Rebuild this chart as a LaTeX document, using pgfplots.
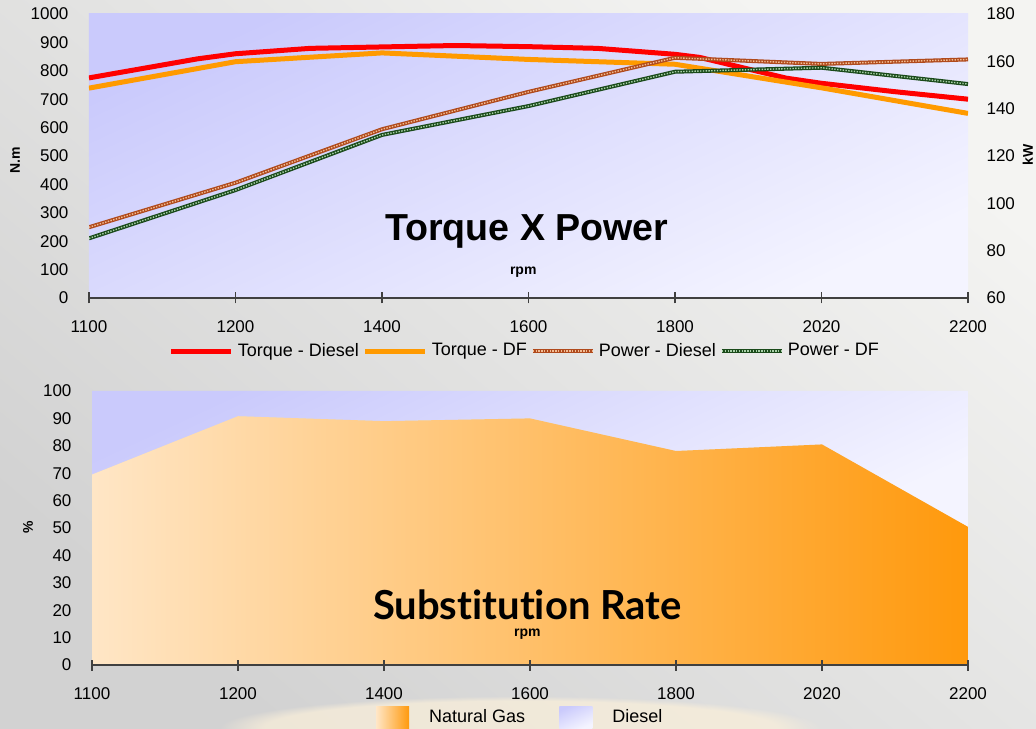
\documentclass[border=0pt]{standalone}
\usepackage{pgfplots}
\pgfplotsset{compat=1.18}
\usepackage{fontspec}
\setmainfont{Liberation Sans}
\newfontfamily\latofont[Ligatures=NoCommon]{Lato}
\usetikzlibrary{fadings}

\definecolor{lavA}{HTML}{CACAFC}
\definecolor{lavB}{HTML}{F4F4FF}
\definecolor{ngA}{HTML}{FFE6C6}
\definecolor{ngM}{HTML}{FFC88E}
\definecolor{ngB}{HTML}{FF990C}
\definecolor{tred}{HTML}{FF0000}
\definecolor{torange}{HTML}{FF9A00}
\definecolor{pbrown}{HTML}{B04A1C}
\definecolor{pbrownL}{HTML}{F2BC94}
\definecolor{pgreen}{HTML}{1A4A1A}
\definecolor{pgreenL}{HTML}{A8D0A8}
\definecolor{axgray}{HTML}{404040}
\definecolor{bgA}{HTML}{F4F4F2}
\definecolor{bgB}{HTML}{D2D2D2}
\definecolor{glow}{HTML}{FBF0DA}

\tikzset{
  tdiesel/.style={tred, line width=2.5pt, line join=round},
  tdf/.style={torange, line width=2.5pt, line join=round},
  pdiesel/.style={pbrown, line width=2pt, line join=round,
     postaction={draw=pbrownL, line width=0.7pt, dash pattern=on 0.7pt off 0.7pt}},
  pdf/.style={pgreen, line width=2pt, line join=round,
     postaction={draw=pgreenL, line width=0.7pt, dash pattern=on 0.7pt off 0.7pt}},
}

\pgfplotsset{
  common/.style={
    scale only axis, anchor=south west,
    xmin=0, xmax=6,
    xtick={0,1,2,3,4,5,6},
    xticklabels={1100,1200,1400,1600,1800,2020,2200},
    tick label style={font=\fontsize{8.5}{10}\selectfont},
    /pgf/number format/assume math mode=true,
    /pgf/number format/1000 sep={},
    tick align=center, major tick length=5.5pt,
    xticklabel style={yshift=-5pt},
  }
}

\begin{document}
\begin{tikzpicture}
\useasboundingbox (0,0) rectangle (518pt,364pt);
\clip (0,0) rectangle (518pt,364pt);
\shade[top color=bgA, bottom color=bgB, shading angle=-40] (0,0) rectangle (518pt,364pt);
\fill[glow, opacity=0.7, path fading=circle with fuzzy edge 15 percent] (260pt,0pt) ellipse (150pt and 16pt);

% ---------------- top chart: torque ----------------
\begin{axis}[common,
  at={(44.5pt,215pt)}, width=439.5pt, height=142pt,
  ymin=0, ymax=1000, ytick={0,100,...,1000},
  axis x line*=bottom, axis y line*=left,
  y axis line style={draw=none}, ytick style={draw=none},
  x axis line style={axgray, line width=0.6pt},
  xtick style={axgray, line width=0.6pt},
  yticklabel style={xshift=-4pt},
  axis background/.style={top color=lavA, bottom color=lavB, shading angle=25},
  ylabel={N.m},
  ylabel style={font=\fontsize{7}{8}\selectfont\bfseries, at={(axis description cs:-0.084,0.486)}, anchor=center},
  xlabel={rpm},
  xlabel style={font=\fontsize{7}{8}\selectfont\bfseries, at={(axis description cs:0.494,0.0915)}, anchor=center},
]
\addplot[tdiesel] coordinates {
 (0,775) (0.74,842) (1,860) (1.51,879) (2,884) (2.5,889) (3,885) (3.47,879)
 (3.85,864) (4,858) (4.17,847) (4.76,774) (5,756) (5.49,727) (6,700)};
\addplot[tdf] coordinates {
 (0,739) (1,832) (2,863) (3,840) (4,823) (5,740) (6,650)};
\node[font=\fontsize{18.8}{20}\selectfont\bfseries] at (rel axis cs:0.498,0.236) {Torque X Power};
\end{axis}

% ---------------- top chart: power ----------------
\begin{axis}[common,
  at={(44.5pt,215pt)}, width=439.5pt, height=142pt,
  ymin=60, ymax=180, ytick={60,80,...,180},
  axis x line=none, axis y line*=right,
  y axis line style={draw=none}, ytick style={draw=none},
  yticklabel style={xshift=3pt},
  ylabel={kW},
  ylabel style={font=\fontsize{7}{8}\selectfont\bfseries, at={(axis description cs:1.068,0.503)}, anchor=center},
  legend columns=4,
  legend style={draw=none, fill=none, font=\fontsize{9}{10}\selectfont,
     at={(0.497,-0.187)}, anchor=center,
     /tikz/every odd column/.append style={column sep=0pt},
     inner sep=0pt},
  legend image code/.code={\draw[#1] (0pt,0pt) -- (30pt,0pt);},
]
\addlegendimage{tdiesel}\addlegendentry{Torque - Diesel}
\addlegendimage{tdf}\addlegendentry{Torque - DF}
\addplot[pdiesel] coordinates {
 (0,89.9) (1,108.7) (2,131.3) (3,147.1) (4,161.5) (5,158.9) (6,160.8)};
\addlegendentry{Power - Diesel}
\addplot[pdf] coordinates {
 (0,85.2) (1,105.6) (2,128.9) (3,141.1) (4,155.6) (5,157.3) (6,150.4)};
\addlegendentry{Power - DF}
\end{axis}

% ---------------- bottom chart: substitution ----------------
\begin{axis}[common,
  at={(46pt,31.5pt)}, width=438pt, height=137pt,
  ymin=0, ymax=100, ytick={0,10,...,100},
  stack plots=y,
  axis x line*=bottom, axis y line*=left,
  y axis line style={draw=none}, ytick style={draw=none},
  x axis line style={axgray, line width=0.6pt},
  xtick style={axgray, line width=0.6pt},
  yticklabel style={xshift=-4pt},
  axis on top,
  ylabel={\%},
  ylabel style={font=\fontsize{7}{8}\selectfont\bfseries, at={(axis description cs:-0.073,0.504)}, anchor=center},
  xlabel={rpm},
  xlabel style={font=\fontsize{7}{8}\selectfont\bfseries, at={(axis description cs:0.497,0.113)}, anchor=center},
  legend columns=2,
  legend style={draw=none, fill=none, font=\fontsize{9}{10}\selectfont,
     at={(0.49,-0.19)}, anchor=center,
     /tikz/every odd column/.append style={column sep=8pt},
     /tikz/every even column/.append style={column sep=15pt}},
  legend image code/.code={\path[#1] (0pt,-5.5pt) rectangle (16.5pt,5.5pt);},
  extra description/.code={
    \node[font=\latofont\fontsize{20}{22}\selectfont\bfseries] at (0.497,0.219) {Substitution Rate};
  },
]
\addplot[draw=none, left color=ngA, middle color=ngM, right color=ngB] coordinates {
 (0,69.5) (1,90.8) (2,89.0) (3,90.0) (4,78.1) (5,80.5) (6,50.4)} \closedcycle;
\addlegendentry{Natural Gas}
\addplot[draw=none, top color=lavA, bottom color=lavB, shading angle=25] coordinates {
 (0,30.5) (1,9.2) (2,11.0) (3,10.0) (4,21.9) (5,19.5) (6,49.6)} \closedcycle;
\addlegendentry{Diesel}
\end{axis}
\end{tikzpicture}
\end{document}
